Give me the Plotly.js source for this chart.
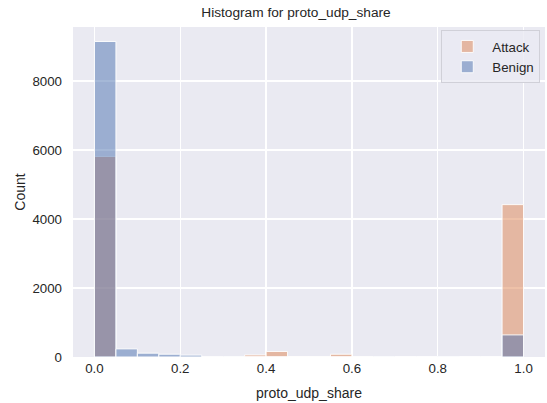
<!DOCTYPE html>
<html>
<head>
<meta charset="utf-8">
<script src="https://cdn.plot.ly/plotly-3.0.1.min.js"></script>
<style>
html,body{margin:0;padding:0;background:#fff;}
#chart{width:547px;height:403px;}
</style>
</head>
<body>
<div id="chart"></div>
<script>
// Bin left edges (bin width 0.05)
const binStarts = [0.00,0.05,0.10,0.15,0.20,0.25,0.30,0.35,0.40,0.45,0.50,0.55,0.60,0.65,0.70,0.75,0.80,0.85,0.90,0.95];
const binWidth = 0.05;
const attackCounts = [5810,0,0,0,5,10,15,60,160,10,5,80,5,0,0,0,0,0,0,4415];
const benignCounts = [9140,235,110,80,55,15,5,0,0,0,0,0,0,5,0,0,5,0,0,640];
const seriesNames = ["Attack","Benign"];
const xTicks = [0,0.2,0.4,0.6,0.8,1.0];
const yTicks = [0,2000,4000,6000,8000];

const bgc = '#eaeaf2';
const font = "Arial, 'Liberation Sans', Helvetica, sans-serif";
const maxCount = Math.max(...attackCounts, ...benignCounts);

const mk = (name, ys, color) => ({
  type:'bar', name:name, x:binStarts, y:ys, width:binWidth, offset:0,
  marker:{color:color, line:{color:'rgba(255,255,255,0.9)', width:1}},
  hoverinfo:'x+y+name'
});

const data = [
  mk(seriesNames[0], attackCounts, 'rgba(221,132,82,0.5)'),
  mk(seriesNames[1], benignCounts, 'rgba(76,114,176,0.5)')
];

const layout = {
  width:547, height:403,
  margin:{l:73, r:2, t:27, b:46, pad:0},
  paper_bgcolor:'#ffffff', plot_bgcolor:bgc,
  barmode:'overlay', bargap:0,
  font:{family:font, size:13, color:'#262626'},
  title:{text:'Histogram for proto_udp_share', font:{family:font, size:13.7, color:'#262626'},
         x:296/547, xref:'container', xanchor:'center', y:1-12/403, yref:'container', yanchor:'middle'},
  xaxis:{range:[-0.05,1.05], tickvals:xTicks, tickformat:'.1f', showgrid:true, gridcolor:'#ffffff', gridwidth:1.3,
         zeroline:false, ticks:'', ticklen:0, showline:false, ticklabelstandoff:2,
         tickfont:{family:font, size:13.3, color:'#262626'},
         title:{text:'proto_udp_share', font:{family:font, size:14, color:'#262626'}, standoff:12}},
  yaxis:{range:[0, maxCount*1.046], tickvals:yTicks, tickformat:'d', showgrid:true, gridcolor:'#ffffff', gridwidth:1.3,
         zeroline:false, ticks:'', ticklen:0, showline:false, ticklabelstandoff:10,
         tickfont:{family:font, size:13.3, color:'#262626'},
         title:{text:'Count', font:{family:font, size:14, color:'#262626'}, standoff:3}},
  showlegend:true,
  legend:{x:0.99, y:0.99, xanchor:'right', yanchor:'top', bgcolor:'rgba(234,234,242,0.8)',
          bordercolor:'#d0d0d8', borderwidth:1, font:{family:font, size:13.3, color:'#262626'},
          traceorder:'normal', itemwidth:40}
};

Plotly.newPlot('chart', data, layout, {displayModeBar:false, staticPlot:true});
</script>
</body>
</html>
